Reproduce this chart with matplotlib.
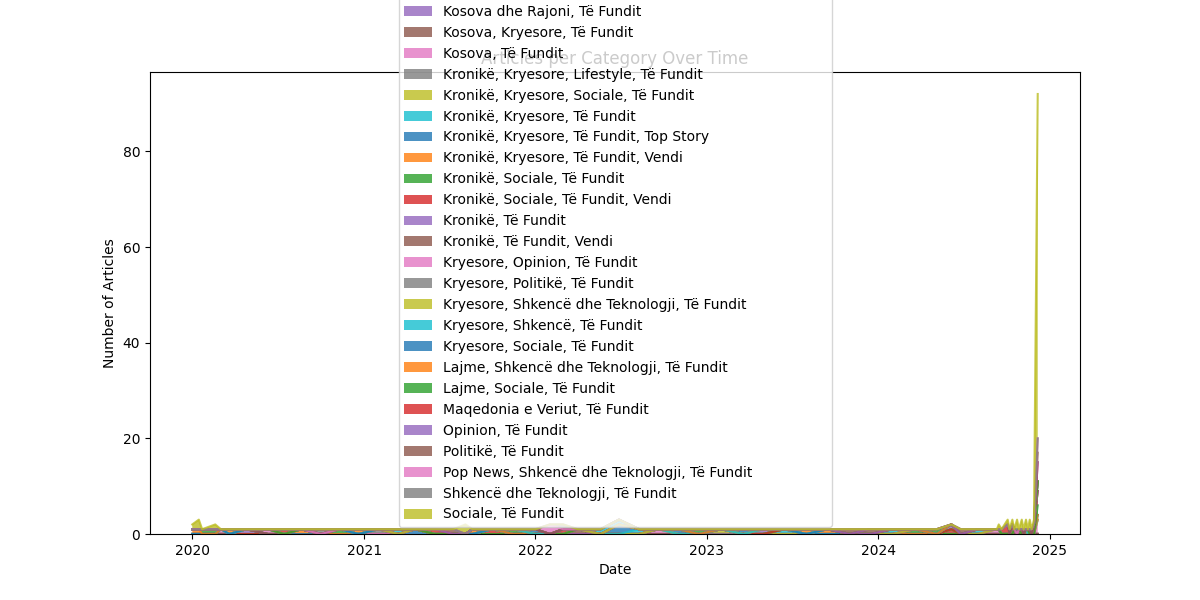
import numpy as np
import pandas as pd
import matplotlib
matplotlib.use("Agg")
import matplotlib.pyplot as plt

# category names (alphabetical, same order as the legend)
categories = [
    "Arbëria, Të Fundit",
    "Arte, Kulturë, Të Fundit",
    "Biznes, Ekonomi, Të Fundit",
    "Bota, Kryesore, Të Fundit",
    "Bota, Të Fundit",
    "Diaspora, Kryesore, Shkencë dhe Teknologjia, Të Fundit",
    "Diaspora, Të Fundit",
    "Ekonomi, Kryesore, Të Fundit",
    "Ekonomi, Të Fundit",
    "Evropa, Të Fundit",
    "Histori, Të Fundit",
    "Intervista, Të Fundit",
    "Kosova dhe Bota, Të Fundit",
    "Kosova dhe Rajoni, Kryesore, Të Fundit",
    "Kosova dhe Rajoni, Të Fundit",
    "Kosova, Kryesore, Të Fundit",
    "Kosova, Të Fundit",
    "Kronikë, Kryesore, Lifestyle, Të Fundit",
    "Kronikë, Kryesore, Sociale, Të Fundit",
    "Kronikë, Kryesore, Të Fundit",
    "Kronikë, Kryesore, Të Fundit, Top Story",
    "Kronikë, Kryesore, Të Fundit, Vendi",
    "Kronikë, Sociale, Të Fundit",
    "Kronikë, Sociale, Të Fundit, Vendi",
    "Kronikë, Të Fundit",
    "Kronikë, Të Fundit, Vendi",
    "Kryesore, Opinion, Të Fundit",
    "Kryesore, Politikë, Të Fundit",
    "Kryesore, Shkencë dhe Teknologji, Të Fundit",
    "Kryesore, Shkencë, Të Fundit",
    "Kryesore, Sociale, Të Fundit",
    "Lajme, Shkencë dhe Teknologji, Të Fundit",
    "Lajme, Sociale, Të Fundit",
    "Maqedonia e Veriut, Të Fundit",
    "Opinion, Të Fundit",
    "Politikë, Të Fundit",
    "Pop News, Shkencë dhe Teknologji, Të Fundit",
    "Shkencë dhe Teknologji, Të Fundit",
    "Sociale, Të Fundit",
]

# one row per (date, category) with the article count
entry_dates = [
    "2020-01-01", "2020-01-01", "2020-01-15", "2020-01-15", "2020-01-22",
    "2020-02-19", "2020-02-19", "2020-03-02", "2020-03-20", "2020-04-25",
    "2020-06-10", "2020-07-15", "2020-08-20", "2020-10-01", "2020-11-10",
    "2020-12-20", "2021-02-01", "2021-03-15", "2021-04-20", "2021-06-01",
    "2021-07-10", "2021-08-05", "2021-08-20", "2021-10-01", "2021-11-15",
    "2022-01-01", "2022-02-01", "2022-03-01", "2022-03-01", "2022-04-01",
    "2022-05-20", "2022-06-28", "2022-06-28", "2022-08-10", "2022-09-20",
    "2022-11-01", "2022-12-15", "2023-02-01", "2023-03-20", "2023-05-01",
    "2023-06-15", "2023-08-01", "2023-09-15", "2023-11-01", "2023-12-15",
    "2024-02-01", "2024-03-20", "2024-05-05", "2024-06-05", "2024-06-05",
    "2024-06-25", "2024-08-01", "2024-09-10", "2024-09-14", "2024-09-14",
    "2024-09-20", "2024-10-03", "2024-10-03", "2024-10-07", "2024-10-13",
    "2024-10-13", "2024-10-17", "2024-10-23", "2024-10-23", "2024-10-27",
    "2024-11-02", "2024-11-02", "2024-11-06", "2024-11-11", "2024-11-11",
    "2024-11-15", "2024-11-19", "2024-11-19", "2024-11-23", "2024-11-28",
    "2024-11-28",
    "2024-12-06", "2024-12-06", "2024-12-06", "2024-12-06", "2024-12-06",
    "2024-12-06", "2024-12-06", "2024-12-06", "2024-12-06",
]
entry_cats = [
    21, 38, 21, 38, 22,
    22, 38, 16, 21, 4,
    16, 23, 1, 27, 2,
    21, 7, 19, 0, 33,
    35, 38, 21, 3, 22,
    30, 36, 23, 37, 5,
    29, 20, 29, 19, 6,
    10, 22, 8, 30, 24,
    9, 21, 11, 35, 25,
    19, 12, 32, 24, 13,
    35, 19, 16, 38, 16,
    33, 33, 38, 36, 23,
    38, 16, 37, 38, 23,
    33, 38, 36, 22, 38,
    30, 33, 38, 36, 23,
    38,
    16, 19, 22, 23, 26,
    33, 35, 36, 38,
]
entry_counts = [
    1, 1, 1, 2, 1,
    1, 1, 1, 1, 1,
    1, 1, 1, 1, 1,
    1, 1, 1, 1, 1,
    1, 2, 1, 1, 1,
    1, 2, 1, 1, 1,
    1, 2, 1, 1, 1,
    1, 1, 1, 1, 1,
    1, 1, 1, 1, 1,
    1, 1, 1, 1, 1,
    1, 1, 1, 1, 1,
    1, 2, 1, 1, 2,
    1, 1, 1, 2, 1,
    1, 2, 1, 1, 2,
    1, 1, 2, 1, 2,
    1,
    3, 1, 2, 3, 2,
    4, 2, 3, 72,
]

df = pd.DataFrame({
    "date": pd.to_datetime(entry_dates),
    "cat": entry_cats,
    "count": entry_counts,
})
table = df.pivot_table(index="date", columns="cat", values="count",
                       aggfunc="sum", fill_value=0)
table = table.reindex(columns=range(len(categories)), fill_value=0)

fig, ax = plt.subplots(figsize=(12, 6), dpi=100)
polys = ax.stackplot(table.index, table.T.values, labels=categories, alpha=0.8)

# outline each layer like a stacked area plot does
tops = np.cumsum(table.T.values, axis=0)
for poly, top in zip(polys, tops):
    ax.plot(table.index, top, color=poly.get_facecolor()[0][:3],
            alpha=0.8, linewidth=1.5)

ax.set_title("Articles per Category Over Time")
ax.set_xlabel("Date")
ax.set_ylabel("Number of Articles")
ax.legend(handles=polys, loc="lower center")

fig.savefig("out.png", dpi=100)
